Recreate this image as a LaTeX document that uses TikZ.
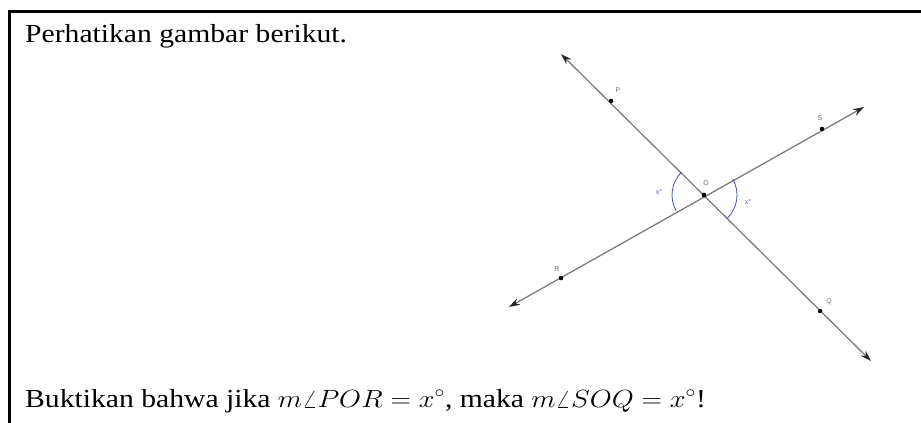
\documentclass[tikz,border=0pt]{standalone}
\usepackage{fontspec}
\setmainfont{Liberation Serif}
\newfontfamily\lblfont{Liberation Sans}
\usetikzlibrary{arrows.meta,calc}
\definecolor{linegray}{RGB}{125,125,125}
\definecolor{arcblue}{RGB}{70,80,170}
\tikzset{
  geoline/.style={draw=linegray, line width=1.3pt,
    arrows={Stealth[length=11pt,width=7pt,color=black!85]-Stealth[length=11pt,width=7pt,color=black!85]}},
  ptdot/.style={circle, fill=black, inner sep=0pt, minimum size=4.5pt},
  ptlabel/.style={font=\lblfont\fontsize{7}{8}\selectfont, text=black!55, inner sep=0pt},
  anglabel/.style={font=\lblfont\fontsize{7}{8}\selectfont, text=arcblue!70!gray, inner sep=0pt},
  anglearc/.style={draw=arcblue, line width=0.8pt},
  frameline/.style={draw=black, line width=3pt},
  bodytext/.style={font=\fontsize{26}{30}\selectfont, anchor=base west, inner sep=0pt}
}
\begin{document}
\begin{tikzpicture}[x=1pt,y=1pt]
\useasboundingbox (0,0) rectangle (921,-423);
% frame (top and left edges)
\coordinate (FL) at (9.5,-423);
\coordinate (FC) at (9.5,-11);
\coordinate (FR) at (921,-11);
\draw[frameline] (FL) -- (FC) -- (FR);
% points
\node[ptdot] (O) at (704,-195) {};
\node[ptdot] (P) at (611,-101) {};
\node[ptdot] (Q) at (820,-311) {};
\node[ptdot] (R) at (561,-278) {};
\node[ptdot] (S) at (822,-129) {};
% arrow ends
\coordinate (PQa) at (561,-54);
\coordinate (PQb) at (871,-361);
\coordinate (RSa) at (509,-307);
\coordinate (RSb) at (864,-107);
\draw[geoline] (PQa) -- (PQb);
\draw[geoline] (RSa) -- (RSb);
% redraw dots on top
\fill (O) circle (2.3);
\fill (P) circle (2.1);
\fill (Q) circle (2.1);
\fill (R) circle (2.1);
\fill (S) circle (2.1);
% angle arcs
\draw[anglearc] ([shift={(134.7:32)}]O.center) arc (134.7:210.1:32);
\draw[anglearc] ([shift={(-45:33)}]O.center) arc (-45:29.2:33);
% labels
\node[ptlabel] (lP) at (618,-90) {P};
\node[ptlabel] (lO) at (706,-183) {O};
\node[ptlabel] (lQ) at (829,-302) {Q};
\node[ptlabel] (lR) at (557,-269) {R};
\node[ptlabel] (lS) at (820,-118) {S};
\node[anglabel] (la1) at (659,-192) {x°};
\node[anglabel] (la2) at (748,-202) {x°};
% texts
\node[bodytext] (t1) at (25,-42) {\scalebox{1.14}[1]{Perhatikan gambar berikut.}};
\node[bodytext] (t2) at (25,-407) {\scalebox{1.14}[1]{Buktikan bahwa jika $m\angle POR = x^\circ$, maka $m\angle SOQ = x^\circ$!}};
\end{tikzpicture}
\end{document}
